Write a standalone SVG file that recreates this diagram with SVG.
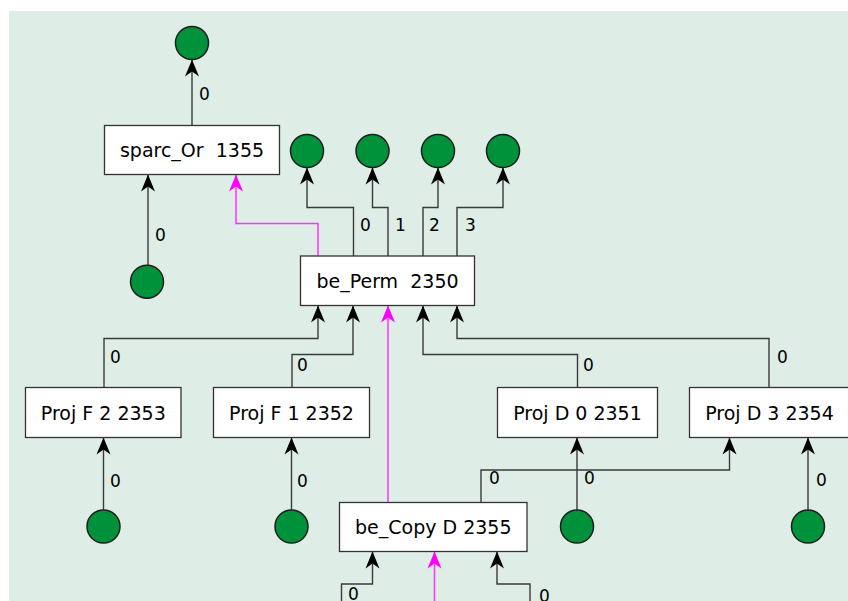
<svg xmlns="http://www.w3.org/2000/svg" width="848" height="601" viewBox="0 0 848 601">
<style>
.bg{fill:#deede6}
.box{fill:#ffffff;stroke:#333333;stroke-width:1.3}
.nt{font-family:"DejaVu Sans",sans-serif;font-size:19px;fill:#000;text-anchor:middle;white-space:pre}
.lbl{font-family:"DejaVu Sans",sans-serif;font-size:17px;fill:#000}
.e{fill:none;stroke:#3a3a3a;stroke-width:1.4;marker-end:url(#ab)}
.m{fill:none;stroke:#ff33ff;stroke-width:1.5;marker-end:url(#am)}
.c{fill:#00923a;stroke:#1e1e1e;stroke-width:1.5}
</style>
<defs>
<marker id="ab" markerUnits="userSpaceOnUse" markerWidth="20" markerHeight="16" viewBox="-18 -8 19 16" refX="0" refY="0" orient="auto">
<path d="M0,0 L-17,-7 L-12,0 L-17,7 Z" fill="#000"/>
</marker>
<marker id="am" markerUnits="userSpaceOnUse" markerWidth="20" markerHeight="16" viewBox="-18 -8 19 16" refX="0" refY="0" orient="auto">
<path d="M0,0 L-17,-7 L-12,0 L-17,7 Z" fill="#ff00ff"/>
</marker>
</defs>
<rect class="bg" x="9" y="11" width="839" height="590"/>

<g id="connectors">
<path class="e" d="M192,125.5 V59.5"/>
<path class="e" d="M148,265 V174.5"/>
<path class="m" d="M318,256 V223.5 H236 V174.5"/>
<path class="e" d="M353.5,256 V207.5 H307 V167.5"/>
<path class="e" d="M388,256 V207.5 H372.5 V167.5"/>
<path class="e" d="M423,256 V207.5 H438 V167.5"/>
<path class="e" d="M457,256 V207.5 H503 V167.5"/>
<path class="e" d="M104,387.5 V338.5 H318 V305.5"/>
<path class="e" d="M292,387.5 V354.5 H353 V305.5"/>
<path class="e" d="M577.5,387.5 V354.5 H423 V305.5"/>
<path class="e" d="M769,387.5 V338.5 H457 V305.5"/>
<path class="m" d="M388,502.5 V305.5"/>
<path class="e" d="M103.5,510 V437.5"/>
<path class="e" d="M291.5,510 V437.5"/>
<path class="e" d="M577,510 V437.5"/>
<path class="e" d="M808,510 V437.5"/>
<path class="e" d="M481,502.5 V470 H729.5 V437.5"/>
<path class="e" d="M341.5,605 V584 H372.5 V551.5"/>
<path class="e" d="M530,605 V584 H497 V551.5"/>
<path class="m" d="M434.5,605 V551.5"/>
<text class="lbl" x="199" y="100">0</text>
<text class="lbl" x="155" y="241">0</text>
<text class="lbl" x="360" y="231">0</text>
<text class="lbl" x="395" y="231">1</text>
<text class="lbl" x="429" y="231">2</text>
<text class="lbl" x="465" y="231">3</text>
<text class="lbl" x="110" y="363">0</text>
<text class="lbl" x="297" y="370.5">0</text>
<text class="lbl" x="583" y="370.5">0</text>
<text class="lbl" x="777" y="363">0</text>
<text class="lbl" x="110" y="486.5">0</text>
<text class="lbl" x="297" y="486.5">0</text>
<text class="lbl" x="489" y="484">0</text>
<text class="lbl" x="584" y="484">0</text>
<text class="lbl" x="816" y="486">0</text>
<text class="lbl" x="348" y="600">0</text>
<text class="lbl" x="539" y="602">0</text>
</g>

<g id="n_top"><circle class="c" cx="192" cy="43" r="16.5"/></g>
<g id="n_sparc_or"><rect class="box" x="104.5" y="125.5" width="175" height="49"/><text class="nt" x="192" y="156.7">sparc_Or  1355</text></g>
<g id="n_in_sparc"><circle class="c" cx="147" cy="281.7" r="16.5"/></g>
<g id="n_out0"><circle class="c" cx="307" cy="151" r="16.5"/></g>
<g id="n_out1"><circle class="c" cx="372.5" cy="151" r="16.5"/></g>
<g id="n_out2"><circle class="c" cx="438" cy="151" r="16.5"/></g>
<g id="n_out3"><circle class="c" cx="503" cy="151" r="16.5"/></g>
<g id="n_be_perm"><rect class="box" x="300.5" y="256" width="174" height="49.5"/><text class="nt" x="387.5" y="287.7">be_Perm  2350</text></g>
<g id="n_projF2"><rect class="box" x="25.5" y="387.5" width="155.5" height="50"/><text class="nt" x="103.3" y="419.5">Proj F 2 2353</text></g>
<g id="n_projF1"><rect class="box" x="213.5" y="387.5" width="156" height="50"/><text class="nt" x="291.5" y="419.5">Proj F 1 2352</text></g>
<g id="n_projD0"><rect class="box" x="497.5" y="387.5" width="160" height="50"/><text class="nt" x="577.5" y="419.5">Proj D 0 2351</text></g>
<g id="n_projD3"><rect class="box" x="689.5" y="387.5" width="160" height="50"/><text class="nt" x="769.5" y="419.5">Proj D 3 2354</text></g>
<g id="n_in_f2"><circle class="c" cx="103.5" cy="526.5" r="16.5"/></g>
<g id="n_in_f1"><circle class="c" cx="291.5" cy="526.5" r="16.5"/></g>
<g id="n_in_d0"><circle class="c" cx="577" cy="526.5" r="16.5"/></g>
<g id="n_in_d3"><circle class="c" cx="808" cy="526.5" r="16.5"/></g>
<g id="n_be_copy"><rect class="box" x="339.5" y="502.5" width="187.5" height="49"/><text class="nt" x="433.3" y="533.7">be_Copy D 2355</text></g>
</svg>
